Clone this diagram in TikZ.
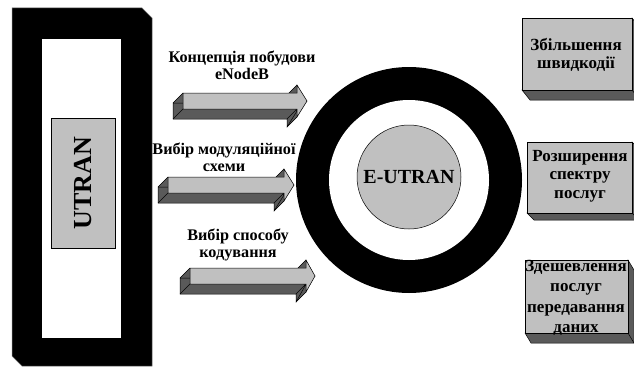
\documentclass[tikz,border=0pt]{standalone}
\usepackage{fontspec}
\setmainfont{Liberation Serif}
\usetikzlibrary{calc}
\definecolor{lightg}{HTML}{C0C0C0}
\definecolor{darkg}{HTML}{5A5A5A}
\tikzset{
  edge/.style={draw=black, line width=0.5pt},
  frontface/.style={fill=lightg, draw=black, line width=0.5pt},
  arrowlabel/.style={font=\bfseries\fontsize{16.2}{17}\selectfont, align=center, inner sep=0pt},
  boxlabel/.style={font=\bfseries\fontsize{17}{18.5}\selectfont, align=center, inner sep=0pt},
}
% name, x0 (left), xh (head base), xt (tip), cy (centre line)
\newcommand\blockarrow[5]{%
  \coordinate (#1-1) at ({#2},{#5-8});
  \coordinate (#1-2) at ({#3},{#5-8});
  \coordinate (#1-3) at ({#3},{#5-16});
  \coordinate (#1-4) at ({#4},{#5});
  \coordinate (#1-5) at ({#3},{#5+16});
  \coordinate (#1-6) at ({#3},{#5+8});
  \coordinate (#1-7) at ({#2},{#5+8});
  \foreach \i in {1,...,7} {\coordinate (#1-\i b) at ($(#1-\i)+(-10,10)$);}
  \foreach \i/\j in {1/2,2/3,3/4,4/5,5/6,6/7,7/1}
    {\fill[darkg] (#1-\i) -- (#1-\j) -- (#1-\j b) -- (#1-\i b) -- cycle;}
  \draw[edge] (#1-1b) -- (#1-2b) -- (#1-3b) -- (#1-4b) -- (#1-5b) -- (#1-6b) -- (#1-7b) -- cycle;
  \foreach \i in {1,...,7} {\draw[edge] (#1-\i) -- (#1-\i b);}
  \path[frontface] (#1-1) -- (#1-2) -- (#1-3) -- (#1-4) -- (#1-5) -- (#1-6) -- (#1-7) -- cycle;
}
% name, x1, y1, x2, y2, dx, dy
\newcommand\solidbox[7]{%
  \path[fill=darkg, edge] (#2,#5) -- (#4,#5) -- (#4,#3) -- ({#4+#6},{#3+#7}) -- ({#4+#6},{#5+#7}) -- ({#2+#6},{#5+#7}) -- cycle;
  \draw[edge] (#4,#5) -- ({#4+#6},{#5+#7});
  \path[frontface] (#2,#3) rectangle (#4,#5);
  \coordinate (#1) at ({(#2+#4)/2},{(#3+#5)/2});
}
\begin{document}
\begin{tikzpicture}[x=1pt,y=-1pt]
\useasboundingbox (0,0) rectangle (634,369);
\clip (0,0) rectangle (634,369);
\fill[white] (0,0) rectangle (634,369);

% left frame
\path[fill=black, draw=black!55, line width=0.5pt] (12,8) -- (142,8) -- (152,18) -- (152,366) -- (22,366) -- (12,356) -- cycle;
\fill[white] (42,39) rectangle (121,338);
\node (utran) [rotate=90, fill=lightg, draw=black, line width=0.5pt,
  minimum width=130pt, minimum height=64pt, inner sep=0pt,
  font=\bfseries\fontsize{26}{28}\selectfont] at (83,183) {UTRAN};

% ring
\node (ring) [circle, fill=black, minimum size=226pt, inner sep=0pt] at (409,180) {};
\node (hole) [circle, fill=white, minimum size=160pt, inner sep=0pt] at (409,180) {};
\node (eutran) [circle, fill=lightg, draw=black, line width=0.5pt, minimum size=104pt, inner sep=0pt,
  font=\bfseries\fontsize{20}{22}\selectfont] at (409,177) {E-UTRAN};

% arrows
\blockarrow{a1}{183}{297}{307}{101}
\blockarrow{a2}{168}{284}{294}{185}
\blockarrow{a3}{190}{306}{315}{276}

\node (l1) [arrowlabel] at (242,65) {Концепція побудови\\eNodeB};
\node (l2) [arrowlabel] at (224,157) {Вибір модуляційної\\схеми};
\node (l3) [arrowlabel] at (238,245) {Вибір способу\\кодування};

% right boxes
\solidbox{b1}{522}{18}{632}{90}{8}{10}
\solidbox{b2}{527}{142}{632}{213}{7}{7}
\solidbox{b3}{525}{260}{628}{333}{6}{10}

\node (t1) [boxlabel] at (576,55) {Збільшення\\швидкодії};
\node (t2) [boxlabel] at (580,176) {Розширення\\спектру\\послуг};
\node (t3) [boxlabel, font=\bfseries\fontsize{17}{20.5}\selectfont] at (576,298) {Здешевлення\\послуг\\передавання\\даних};
\end{tikzpicture}
\end{document}
